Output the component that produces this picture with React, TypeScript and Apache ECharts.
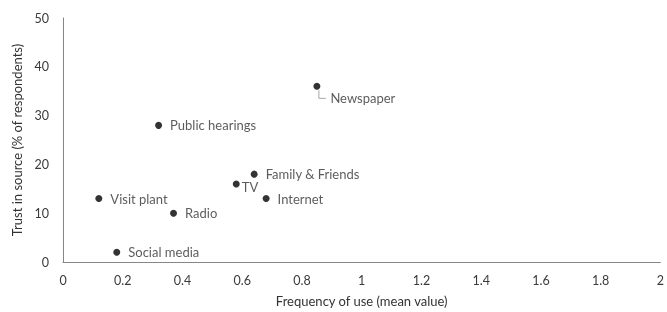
import React, { useEffect, useRef } from "react";
import * as echarts from "echarts";

const names = ["Newspaper", "Public hearings", "Family & Friends", "TV", "Internet", "Visit plant", "Radio", "Social media"];
const freq = [0.85, 0.32, 0.64, 0.58, 0.68, 0.12, 0.37, 0.18];
const trust = [36, 28, 18, 16, 13, 13, 10, 2];

const FONT = "Lato";

export default function App() {
  const ref = useRef<HTMLDivElement>(null);
  useEffect(() => {
    if (!ref.current) return;
    const chart = echarts.init(ref.current, undefined, { renderer: "svg" });
    const data = names.map((n, i) => {
      const item: any = { name: n, value: [freq[i], trust[i]] };
      if (n === "TV") {
        item.label = { position: "right", distance: 2, offset: [0, 3] };
      } else if (n === "Newspaper") {
        item.label = { position: "right", distance: 10, offset: [0, 12] };
      }
      return item;
    });
    chart.setOption({
      animation: false,
      grid: { left: 63, right: 4, top: 18, bottom: 46, containLabel: false },
      xAxis: {
        type: "value",
        min: 0,
        max: 2,
        interval: 0.2,
        name: "Frequency of use (mean value)",
        nameLocation: "middle",
        nameGap: 32,
        nameTextStyle: { fontFamily: FONT, fontSize: 13, color: "#333333" },
        axisLine: { show: true, lineStyle: { color: "#868686", width: 1 } },
        axisTick: { show: false },
        splitLine: { show: false },
        axisLabel: { fontFamily: FONT, fontSize: 12.5, color: "#3a3a3a", margin: 12, formatter: (v: number) => String(Math.round(v * 10) / 10) },
      },
      yAxis: {
        type: "value",
        min: 0,
        max: 50,
        interval: 10,
        name: "Trust in source (% of respondents)",
        nameLocation: "middle",
        nameGap: 38,
        nameTextStyle: { fontFamily: FONT, fontSize: 13, color: "#333333" },
        axisLine: { show: true, lineStyle: { color: "#868686", width: 1 } },
        axisTick: { show: false },
        splitLine: { show: false },
        axisLabel: { fontFamily: FONT, fontSize: 12.5, color: "#3a3a3a", margin: 14 },
      },
      series: [
        {
          type: "scatter",
          symbol: "circle",
          symbolSize: 7,
          itemStyle: { color: "#000000" },
          data,
          label: {
            show: true,
            position: "right",
            distance: 8,
            formatter: "{b}",
            fontFamily: FONT,
            fontSize: 13,
            color: "#333333",
          },
        },
      ],
    });
    const i = names.indexOf("Newspaper");
    const p = chart.convertToPixel({ gridIndex: 0 }, [freq[i], trust[i]]) as number[];
    chart.setOption({
      graphic: [
        {
          type: "polyline",
          shape: { points: [[p[0] + 2, p[1] + 4], [p[0] + 2, p[1] + 12], [p[0] + 9, p[1] + 12]] },
          style: { stroke: "#a6a6a6", lineWidth: 1, fill: "none" },
          silent: true,
        },
      ],
    });
    return () => chart.dispose();
  }, []);
  return <div ref={ref} style={{ width: 667, height: 312, position: "fixed", left: 0, top: 0 }} />;
}
